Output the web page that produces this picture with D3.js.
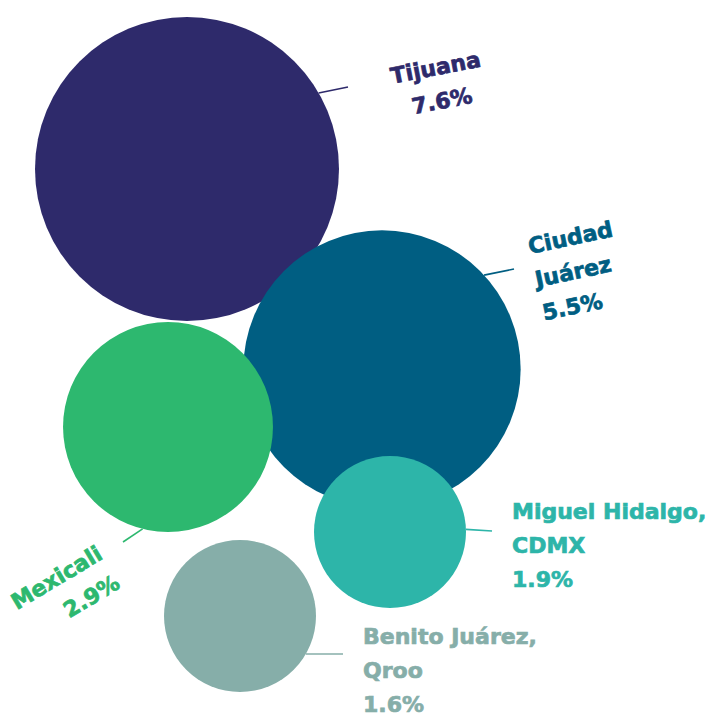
<html>
<head>
<meta charset="utf-8">
<script src="https://d3js.org/d3.v7.min.js"></script>
<style>
  body { margin:0; background:#fff; }
  .label { font-family:"DejaVu Sans", sans-serif; font-weight:bold; font-size:22px; stroke-width:0.7px; paint-order:stroke; }
</style>
</head>
<body>
<svg id="plot"></svg>
<script>

// data
var cities = ["Tijuana", "Ciudad Juárez", "Mexicali", "Miguel Hidalgo, CDMX", "Benito Juárez, Qroo"];
var shares = [7.6, 5.5, 2.9, 1.9, 1.6];
var labelLines = [["Tijuana"], ["Ciudad", "Juárez"], ["Mexicali"], ["Miguel Hidalgo,", "CDMX"], ["Benito Juárez,", "Qroo"]];
var colors = ["#2e2a6b", "#005e82", "#2db86f", "#2db5a9", "#86aea9"];

// bubble placement (hand layout) and label placement
var layout = [
    {cx:187, cy:169, a:-30,  ex:348, ey:87,  tx:437, ty:75,  rot:-11, anchor:"middle"},
    {cx:382, cy:369, a:-42.6,ex:514, ey:269, tx:530, ty:254, rot:-12, anchor:"start"},
    {cx:168, cy:427, a:104,  ex:123, ey:542, tx:104, ty:558, rot:-31, anchor:"end"},
    {cx:390, cy:532, a:-2,   ex:492, ey:531, tx:512, ty:519, rot:0,   anchor:"start"},
    {cx:240, cy:616, a:30,   ex:343, ey:654, tx:363, ty:644, rot:0,   anchor:"start"}
];

var screen = {width:714, height:713};

var svg = d3.select("#plot")
    .attr("width", screen.width)
    .attr("height", screen.height);

// radius scale (smallest bubbles share a minimum size)
var rScale = d3.scalePow()
    .exponent(-0.5)
    .domain([1.9, d3.max(shares)])
    .range([76, 152])
    .clamp(true);

var items = cities.map(function(c, i) {
    return {city:c, share:shares[i], lines:labelLines[i], color:colors[i], pos:layout[i]};
});

// bubbles
svg.append("g")
    .selectAll("circle")
    .data(items)
    .enter()
    .append("circle")
    .attr("cx", function(d) { return d.pos.cx; })
    .attr("cy", function(d) { return d.pos.cy; })
    .attr("r", function(d) { return rScale(d.share); })
    .attr("fill", function(d) { return d.color; });

// leader lines
svg.append("g")
    .selectAll("line")
    .data(items)
    .enter()
    .append("line")
    .attr("x1", function(d) { return d.pos.cx + rScale(d.share) * Math.cos(d.pos.a * Math.PI / 180); })
    .attr("y1", function(d) { return d.pos.cy + rScale(d.share) * Math.sin(d.pos.a * Math.PI / 180); })
    .attr("x2", function(d) { return d.pos.ex; })
    .attr("y2", function(d) { return d.pos.ey; })
    .attr("stroke", function(d) { return d.color; })
    .attr("stroke-width", 1.6);

// labels
var labels = svg.append("g")
    .selectAll("text")
    .data(items)
    .enter()
    .append("text")
    .classed("label", true)
    .attr("fill", function(d) { return d.color; })
    .attr("stroke", function(d) { return d.color; })
    .attr("text-anchor", function(d) { return d.pos.anchor; })
    .attr("transform", function(d) {
        return "translate(" + d.pos.tx + "," + d.pos.ty + ") rotate(" + d.pos.rot + ")";
    });

labels.selectAll("tspan")
    .data(function(d) { return d.lines.concat([d3.format(".1f")(d.share) + "%"]); })
    .enter()
    .append("tspan")
    .attr("x", 0)
    .attr("y", function(t, i) { return i * 34; })
    .text(function(t) { return t; });

</script>
</body>
</html>
